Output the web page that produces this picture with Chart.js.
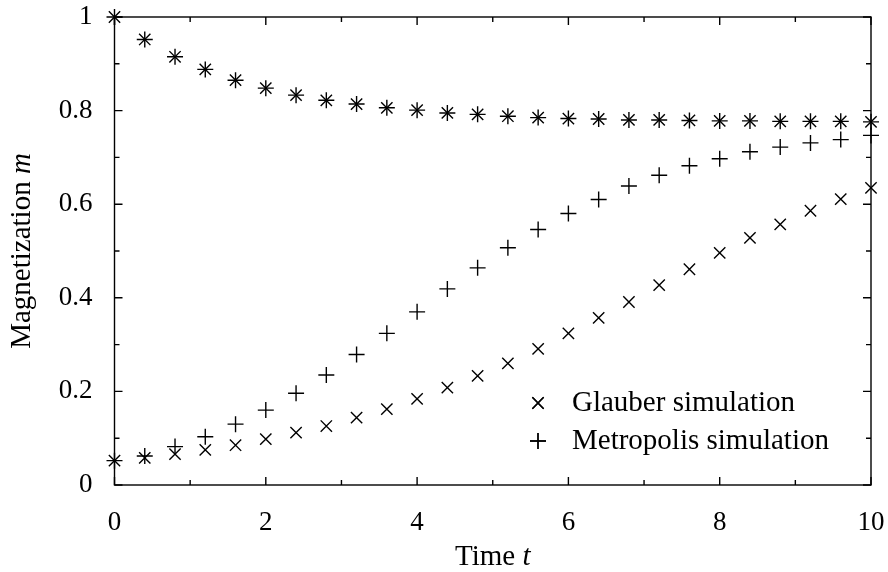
<!DOCTYPE html>
<html>
<head>
<meta charset="utf-8">
<script src="https://cdn.jsdelivr.net/npm/chart.js@4/dist/chart.umd.min.js"></script>
<style>
html,body{margin:0;padding:0;background:#fff;}
#wrap{width:888px;height:572px;position:relative;}
</style>
</head>
<body>
<div id="wrap"><canvas id="c" width="888" height="572"></canvas></div>
<script>
// ---- data ----
const time = [0,0.4,0.8,1.2,1.6,2.0,2.4,2.8,3.2,3.6,4.0,4.4,4.8,5.2,5.6,6.0,6.4,6.8,7.2,7.6,8.0,8.4,8.8,9.2,9.6,10.0];
const glauberHigh = [1.000,0.952,0.915,0.888,0.865,0.848,0.833,0.822,0.814,0.806,0.801,0.795,0.792,0.788,0.785,0.783,0.782,0.780,0.780,0.779,0.778,0.778,0.777,0.777,0.777,0.776];
const metropolisHigh = [1.000,0.952,0.915,0.888,0.865,0.848,0.833,0.822,0.814,0.806,0.801,0.795,0.792,0.788,0.785,0.783,0.782,0.780,0.780,0.779,0.778,0.778,0.777,0.777,0.777,0.776];
const glauberLow = [0.052,0.058,0.066,0.075,0.085,0.098,0.112,0.126,0.144,0.162,0.184,0.208,0.233,0.260,0.291,0.324,0.357,0.391,0.427,0.461,0.496,0.528,0.557,0.586,0.611,0.635];
const metropolisLow = [0.052,0.062,0.082,0.103,0.130,0.160,0.196,0.235,0.279,0.324,0.370,0.419,0.464,0.507,0.546,0.580,0.610,0.639,0.662,0.682,0.697,0.712,0.722,0.731,0.738,0.747];
const seriesLabels = ["Glauber simulation","Metropolis simulation"];
const xMajorTicks = [0,2,4,6,8,10];
const xMinorTicks = [1,3,5,7,9];
const yMajorTicks = [0,0.2,0.4,0.6,0.8,1];
const yMinorTicks = [0.1,0.3,0.5,0.7,0.9];
const xTitle = ["Time ","t"];
const yTitle = ["Magnetization ","m"];

const FONT = "'Liberation Serif', 'Times New Roman', serif";
const FS = 27;   // tick labels
const FT = 29;   // titles and legend

function pts(a,b){ return time.map((t,i)=>({x:t,y:a[i]})).concat(time.map((t,i)=>({x:t,y:b[i]}))); }

const framePlugin = {
  id:'frame',
  beforeDatasetsDraw(chart){
    const {ctx, chartArea:a, scales:{x,y}} = chart;
    ctx.save();
    ctx.strokeStyle='#000'; ctx.lineWidth=1.4;
    ctx.strokeRect(a.left,a.top,a.right-a.left,a.bottom-a.top);
    ctx.beginPath();
    const tick=(list,len)=>{
      list.forEach(v=>{const px=x.getPixelForValue(v);
        ctx.moveTo(px,a.bottom);ctx.lineTo(px,a.bottom-len);
        ctx.moveTo(px,a.top);ctx.lineTo(px,a.top+len);});
    };
    const ytick=(list,len)=>{
      list.forEach(v=>{const py=y.getPixelForValue(v);
        ctx.moveTo(a.left,py);ctx.lineTo(a.left+len,py);
        ctx.moveTo(a.right,py);ctx.lineTo(a.right-len,py);});
    };
    tick(xMajorTicks,8); tick(xMinorTicks,5);
    ytick(yMajorTicks,8); ytick(yMinorTicks,5);
    ctx.stroke();
    ctx.restore();
  },
  afterDraw(chart){
    const {ctx, chartArea:a} = chart;
    ctx.save();
    ctx.fillStyle='#000';
    ctx.textBaseline='middle';
    const drawMixed=(parts,cx,cy)=>{
      ctx.font = `${FT}px ${FONT}`; const w1=ctx.measureText(parts[0]).width;
      ctx.font = `italic ${FT}px ${FONT}`; const w2=ctx.measureText(parts[1]).width;
      const start=cx-(w1+w2)/2;
      ctx.textAlign='left';
      ctx.font = `${FT}px ${FONT}`; ctx.fillText(parts[0],start,cy);
      ctx.font = `italic ${FT}px ${FONT}`; ctx.fillText(parts[1],start+w1,cy);
    };
    drawMixed(xTitle,(a.left+a.right)/2,557);
    ctx.save();
    ctx.translate(22,(a.top+a.bottom)/2);
    ctx.rotate(-Math.PI/2);
    drawMixed(yTitle,0,0);
    ctx.restore();
    const mx=538, tx=572, rows=[403,441];
    chart.data.datasets.forEach((ds,i)=>{
      Chart.helpers.drawPoint(ctx,{pointStyle:ds.pointStyle,radius:ds.pointRadius,borderWidth:ds.borderWidth},mx,rows[i]);
      ctx.strokeStyle='#000'; ctx.lineWidth=ds.borderWidth;
      ctx.stroke();
      ctx.font=`${FT}px ${FONT}`; ctx.textAlign='left';
      ctx.fillText(ds.label,tx,rows[i]);
    });
    ctx.restore();
  }
};

new Chart(document.getElementById('c'),{
  type:'scatter',
  data:{datasets:[
    {label:seriesLabels[0],data:pts(glauberLow,glauberHigh),pointStyle:'crossRot',pointRadius:8,pointHoverRadius:8,borderColor:'#000',backgroundColor:'#000',borderWidth:1.4,clip:false},
    {label:seriesLabels[1],data:pts(metropolisLow,metropolisHigh),pointStyle:'cross',pointRadius:8,pointHoverRadius:8,borderColor:'#000',backgroundColor:'#000',borderWidth:1.4,clip:false}
  ]},
  options:{
    responsive:false,animation:false,
    events:[],
    layout:{padding:{top:17,right:17,left:0,bottom:0}},
    plugins:{legend:{display:false},tooltip:{enabled:false},title:{display:false}},
    scales:{
      x:{type:'linear',min:0,max:10,
        grid:{display:false,drawTicks:false},border:{display:false},
        ticks:{stepSize:2,padding:22,color:'#000',font:{family:FONT,size:FS},maxRotation:0,
          callback:v=>String(v)},
        afterFit:s=>{s.height=87;s.paddingLeft=0;s.paddingRight=0;s.paddingTop=0;s.paddingBottom=0;}
      },
      y:{type:'linear',min:0,max:1,
        grid:{display:false,drawTicks:false},border:{display:false},
        ticks:{stepSize:0.2,padding:22,color:'#000',font:{family:FONT,size:FS},
          callback:v=>String(+v.toFixed(1))},
        afterFit:s=>{s.width=114.5;s.paddingLeft=0;s.paddingRight=0;s.paddingTop=0;s.paddingBottom=0;}
      }
    }
  },
  plugins:[framePlugin]
});
</script>
</body>
</html>
